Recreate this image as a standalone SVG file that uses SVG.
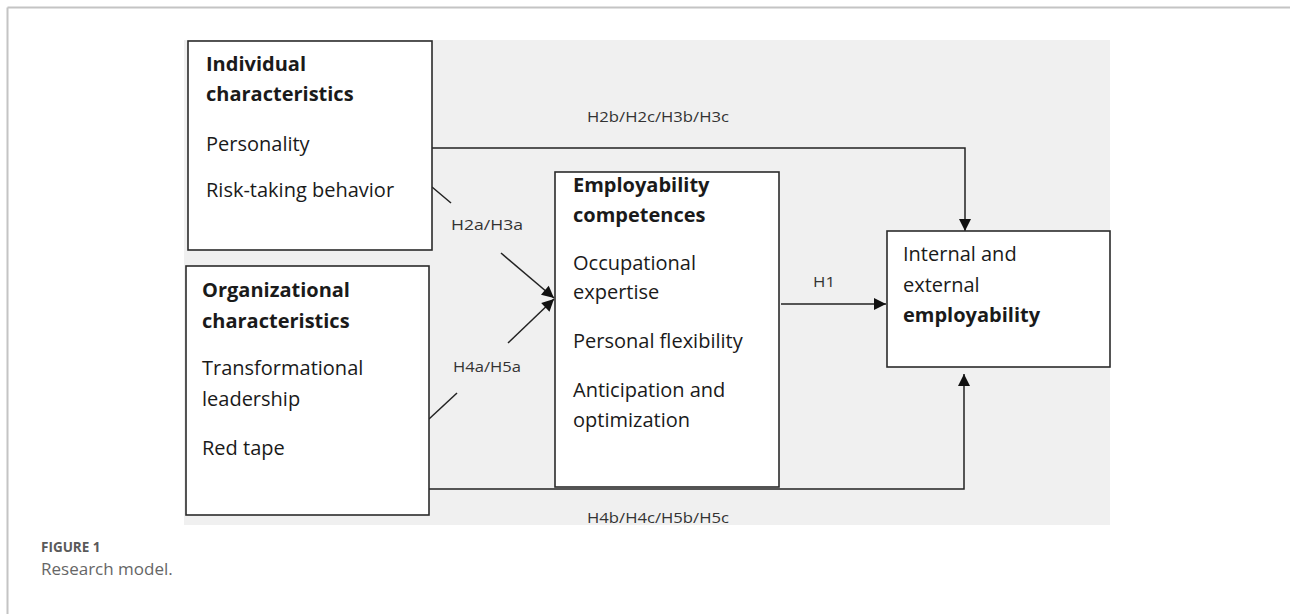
<svg xmlns="http://www.w3.org/2000/svg" width="1290" height="614" viewBox="0 0 1290 614">
<defs>
<style>
.box{fill:#fff;stroke:#2b2b2b;stroke-width:1.6}
.t{font-family:"Open Sans","Noto Sans",sans-serif;font-size:20px;fill:#1a1a1a}
.b{font-weight:bold}
.lbl{font-family:"Open Sans","Noto Sans",sans-serif;font-size:14px;fill:#333}
.ln{fill:none;stroke:#222;stroke-width:1.5}
</style>
<marker id="ah" markerUnits="userSpaceOnUse" markerWidth="14" markerHeight="14" viewBox="0 0 14 14" refX="13" refY="7" orient="auto">
<path d="M1,1 L13,7 L1,13 Z" fill="#111"/>
</marker>
</defs>
<rect width="1290" height="614" fill="#fff"/>
<line x1="7.5" y1="7.5" x2="1290" y2="7.5" stroke="#c4c4c4" stroke-width="2"/>
<line x1="7.5" y1="7.5" x2="7.5" y2="614" stroke="#c4c4c4" stroke-width="2"/>
<rect x="184" y="40" width="926" height="485" fill="#f0f0f0"/>

<g id="connectors">
<polyline class="ln" points="432,148 965,148 965,231" marker-end="url(#ah)"/>
<polyline class="ln" points="429,489 964,489 964,374" marker-end="url(#ah)"/>
<line class="ln" x1="781" y1="304" x2="886" y2="304" marker-end="url(#ah)"/>
<line class="ln" x1="432" y1="187" x2="451" y2="203"/>
<line class="ln" x1="501" y1="253" x2="554" y2="298" marker-end="url(#ah)"/>
<line class="ln" x1="429" y1="419" x2="457" y2="393"/>
<line class="ln" x1="508" y1="343" x2="554" y2="299" marker-end="url(#ah)"/>
<text class="lbl" x="587" y="122" textLength="142" lengthAdjust="spacingAndGlyphs">H2b/H2c/H3b/H3c</text>
<text class="lbl" x="587" y="523" textLength="142" lengthAdjust="spacingAndGlyphs">H4b/H4c/H5b/H5c</text>
<text class="lbl" x="451" y="230" textLength="72" lengthAdjust="spacingAndGlyphs">H2a/H3a</text>
<text class="lbl" x="453" y="372" textLength="68" lengthAdjust="spacingAndGlyphs">H4a/H5a</text>
<text class="lbl" x="813" y="287" textLength="22" lengthAdjust="spacingAndGlyphs">H1</text>
</g>

<g id="individual">
<rect class="box" x="188" y="41" width="244" height="209"/>
<text class="t b" x="206" y="71">Individual</text>
<text class="t b" x="206" y="101">characteristics</text>
<text class="t" x="206" y="151">Personality</text>
<text class="t" x="206" y="197">Risk-taking behavior</text>
</g>

<g id="organizational">
<rect class="box" x="186" y="266" width="243" height="249"/>
<text class="t b" x="202" y="297">Organizational</text>
<text class="t b" x="202" y="328">characteristics</text>
<text class="t" x="202" y="375">Transformational</text>
<text class="t" x="202" y="406">leadership</text>
<text class="t" x="202" y="455">Red tape</text>
</g>

<g id="competences">
<rect class="box" x="555" y="172" width="224" height="315"/>
<text class="t b" x="573" y="192">Employability</text>
<text class="t b" x="573" y="222">competences</text>
<text class="t" x="573" y="270">Occupational</text>
<text class="t" x="573" y="299">expertise</text>
<text class="t" x="573" y="348">Personal flexibility</text>
<text class="t" x="573" y="397">Anticipation and</text>
<text class="t" x="573" y="427">optimization</text>
</g>

<g id="employability">
<rect class="box" x="887" y="231" width="223" height="136"/>
<text class="t" x="903" y="261">Internal and</text>
<text class="t" x="903" y="292">external</text>
<text class="t b" x="903" y="322">employability</text>
</g>

<g id="caption">
<text x="41" y="552" font-family="'Open Sans','Noto Sans',sans-serif" font-size="13.5" font-weight="bold" fill="#5a5a5a">FIGURE 1</text>
<text x="41" y="575" font-family="'Open Sans','Noto Sans',sans-serif" font-size="17" fill="#666">Research model.</text>
</g>
</svg>
